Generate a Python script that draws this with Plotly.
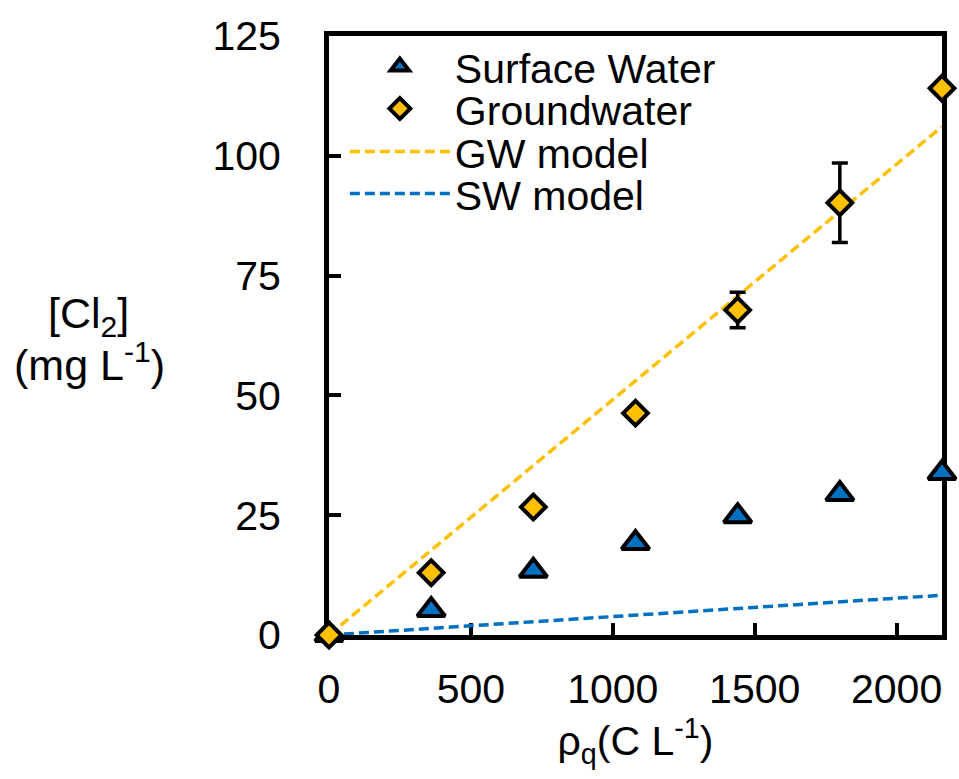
import plotly.graph_objects as go

# ---- data ----
rho_q = [0, 360, 720, 1080, 1440, 1800, 2160]
surface_water = [0, 5.2, 13.4, 19.2, 24.8, 29.4, 33.8]
groundwater = [0, 13.0, 26.7, 46.3, 67.8, 90.2, 114.1]
groundwater_err = [0, 0, 0, 0, 3.7, 8.3, 0]
model_x = [0, 2160]
gw_model = [0, 106.1]
sw_model = [0, 8.3]
x_ticks = [0, 500, 1000, 1500, 2000]
y_ticks = [0, 25, 50, 75, 100, 125]

BLUE = "#0070C0"
GOLD = "#FFC000"
FONT = "Liberation Sans, Arial, sans-serif"

fig = go.Figure()

fig.add_trace(go.Scatter(
    x=model_x, y=gw_model, mode="lines", name="GW model",
    line=dict(color=GOLD, width=3.5, dash="10px,5px"),
    legend="legend3", cliponaxis=False))
fig.add_trace(go.Scatter(
    x=model_x, y=sw_model, mode="lines", name="SW model",
    line=dict(color=BLUE, width=3.5, dash="10px,5px"),
    legend="legend4", cliponaxis=False))
fig.add_trace(go.Scatter(
    x=rho_q, y=surface_water, mode="markers", name="Surface Water",
    marker=dict(symbol="triangle-up", size=24, color=BLUE,
                line=dict(color="black", width=4)),
    legend="legend", cliponaxis=False))
fig.add_trace(go.Scatter(
    x=rho_q, y=groundwater, mode="markers", name="Groundwater",
    marker=dict(symbol="diamond", size=19, color=GOLD,
                line=dict(color="black", width=4)),
    error_y=dict(type="data", array=groundwater_err, visible=True,
                 color="black", thickness=3.5, width=8),
    legend="legend2", cliponaxis=False))

# plot-area geometry (pixels) used to place paper-referenced texts
L, R, T, B = 329, 11.5, 36, 143.5
W_PLOT = 959 - L - R
H_PLOT = 779 - T - B


def px_x(px):
    return (px - L) / W_PLOT


def px_y(py):
    return (779 - B - py) / H_PLOT


leg_common = dict(font=dict(family=FONT, size=41, color="black"),
                  bgcolor="rgba(0,0,0,0)", borderwidth=0,
                  xanchor="left", yanchor="middle", itemwidth=100,
                  tracegroupgap=0)
legend_rows = [67, 109, 152, 194]
fig.update_layout(
    legend=dict(x=px_x(345), y=px_y(legend_rows[0]), **leg_common),
    legend2=dict(x=px_x(345), y=px_y(legend_rows[1]), **leg_common),
    legend3=dict(x=px_x(345), y=px_y(legend_rows[2]), **leg_common),
    legend4=dict(x=px_x(345), y=px_y(legend_rows[3]), **leg_common),
)

axis_common = dict(
    showline=True, linecolor="black", linewidth=5, mirror=True,
    ticks="inside", ticklen=12, tickwidth=4, tickcolor="black",
    showgrid=False, zeroline=False, layer="below traces",
    tickfont=dict(family=FONT, size=41, color="black"),
)

fig.update_xaxes(range=[0, 2160], tickvals=x_ticks,
                 ticktext=[str(v) for v in x_ticks],
                 ticklabelstandoff=14,
                 title=dict(text="ρ<sub>q</sub>(C L<sup>-1</sup>)",
                            font=dict(family=FONT, size=41, color="black"),
                            standoff=10),
                 **axis_common)
fig.update_yaxes(range=[0, 125], tickvals=y_ticks,
                 ticktext=[str(v) for v in y_ticks],
                 ticklabelstandoff=35,
                 **axis_common)

fig.add_annotation(text="[Cl<sub>2</sub>]", xref="paper", yref="paper",
                   x=px_x(86), y=px_y(316), showarrow=False,
                   xanchor="center", yanchor="middle",
                   font=dict(family=FONT, size=43, color="black"))
fig.add_annotation(text="(mg L<sup>-1</sup>)", xref="paper", yref="paper",
                   x=px_x(87), y=px_y(362), showarrow=False,
                   xanchor="center", yanchor="middle",
                   font=dict(family=FONT, size=43, color="black"))

fig.update_layout(
    width=959, height=779,
    margin=dict(l=L, r=R, t=T, b=B),
    paper_bgcolor="white", plot_bgcolor="white",
    showlegend=True,
)

fig.write_html("out.html")
